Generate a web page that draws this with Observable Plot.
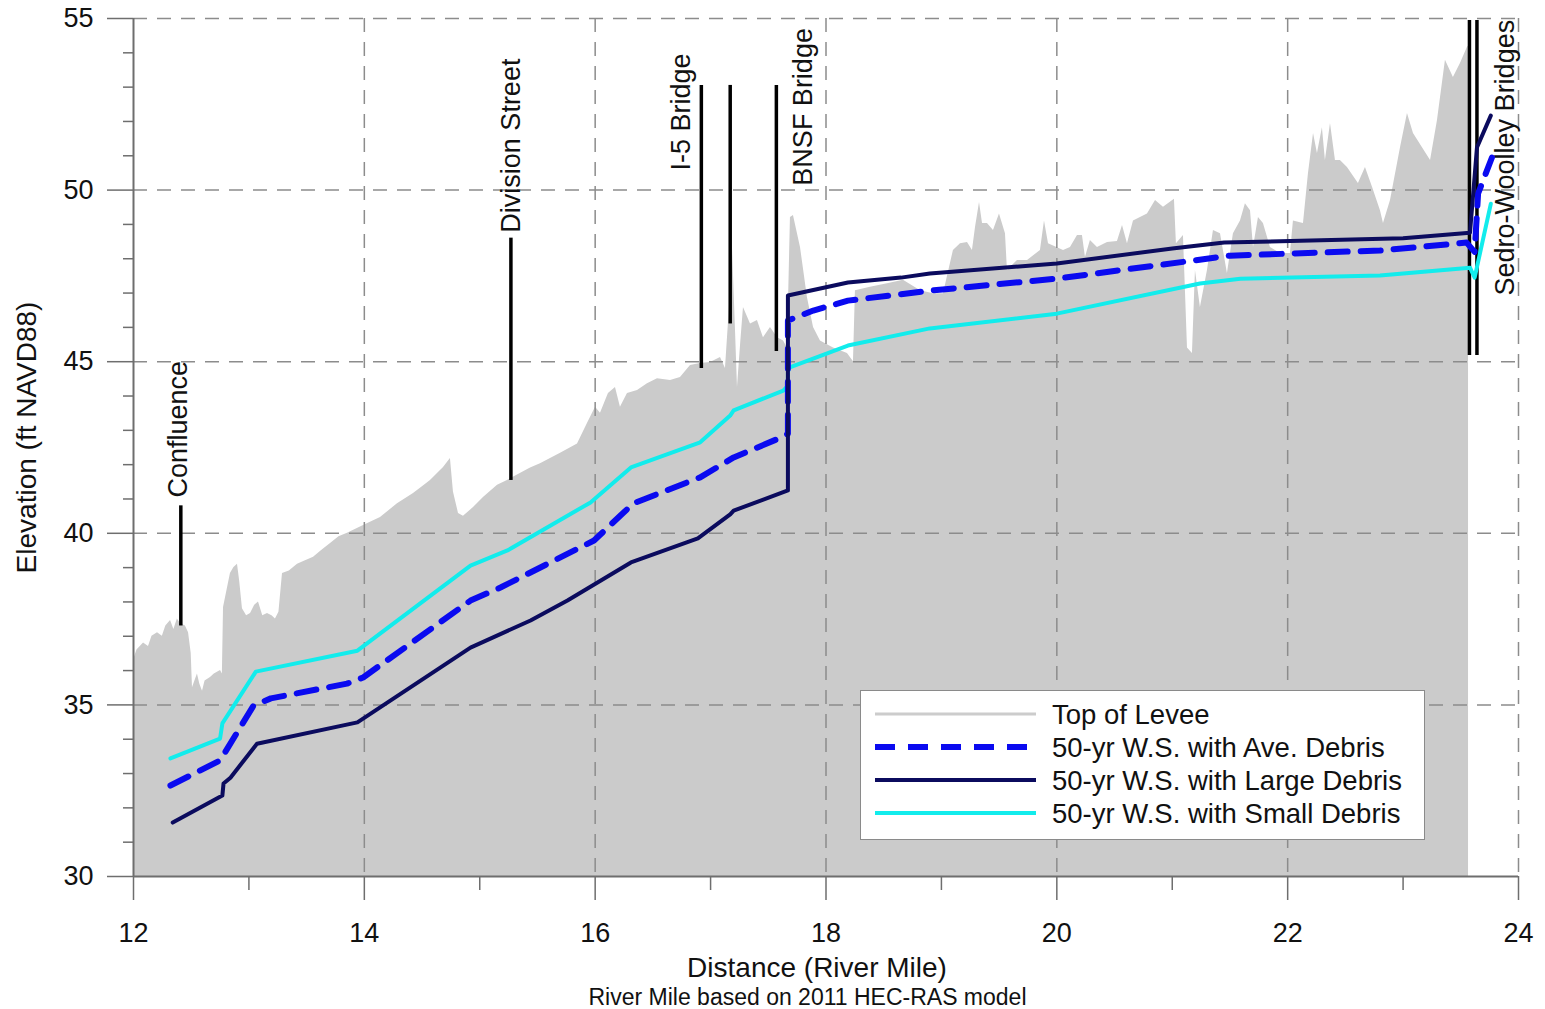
<!DOCTYPE html>
<html>
<head>
<meta charset="utf-8">
<script src="https://cdn.jsdelivr.net/npm/d3@7"></script>
<script src="https://cdn.jsdelivr.net/npm/@observablehq/plot@0.6"></script>
<style>
  html, body { margin: 0; padding: 0; background: #fff; }
  #wrap { position: relative; width: 1545px; height: 1009px; font-family: "Liberation Sans", Arial, sans-serif; }
  #caption { position: absolute; left: 70px; width: 1475px; top: 985px; text-align: center; font-size: 23px; line-height: 24px; color: #111; }
  #legend { position: absolute; left: 860px; top: 690px; width: 563px; height: 148px; border: 1.5px solid #8a8a8a; background: #fff; box-sizing: content-box; }
  .lrow { position: absolute; left: 0; height: 33px; width: 100%; }
  .lrow svg { position: absolute; left: 12px; top: 0; }
  .lrow span { position: absolute; left: 191px; top: 1px; font-size: 27.5px; line-height: 33px; color: #111; white-space: nowrap; }
</style>
</head>
<body>
<div id="wrap">
  <div id="chart"></div>
  <div id="legend"></div>
  <div id="caption">River Mile based on 2011 HEC-RAS model</div>
</div>
<script>
// ---- Data (river mile, elevation ft NAVD88) ----
const leveeTop = [
  [12.000,36.3],[12.03,36.6],[12.087,36.8],[12.13,36.7],[12.16,37.0],[12.208,37.1],[12.25,37.0],[12.28,37.3],
  [12.321,37.46],[12.35,37.2],[12.38,37.5],[12.407,37.37],[12.45,37.3],[12.477,37.1],[12.50,36.5],[12.511,35.5],
  [12.554,35.9],[12.575,35.6],[12.598,35.4],[12.62,35.7],[12.667,35.8],[12.70,35.9],[12.754,36.0],[12.770,35.9],
  [12.780,37.84],[12.82,38.5],[12.840,38.83],[12.87,39.0],[12.901,39.1],[12.92,38.6],[12.944,37.8],[12.98,37.6],
  [13.014,37.66],[13.05,37.9],[13.083,38.0],[13.12,37.6],[13.161,37.66],[13.20,37.6],[13.230,37.5],[13.26,37.7],
  [13.291,38.83],[13.35,38.9],[13.421,39.1],[13.49,39.2],[13.560,39.3],[13.63,39.5],[13.707,39.7],[13.78,39.9],
  [13.854,40.0],[13.993,40.23],[14.140,40.46],[14.287,40.86],[14.426,41.16],[14.52,41.4],[14.573,41.54],
  [14.686,41.92],[14.746,42.18],[14.772,41.2],[14.816,40.58],[14.859,40.5],[14.946,40.75],[15.032,41.04],
  [15.154,41.4],[15.240,41.54],[15.327,41.7],[15.440,41.9],[15.526,42.03],[15.700,42.33],[15.847,42.6],
  [15.933,43.2],[16.003,43.67],[16.046,43.5],[16.115,44.07],[16.176,44.25],[16.219,43.67],[16.280,44.07],
  [16.367,44.16],[16.453,44.36],[16.540,44.5],[16.653,44.45],[16.739,44.54],[16.826,44.89],[16.912,44.95],
  [16.999,44.98],[17.086,45.12],[17.129,44.8],[17.160,46.4],[17.190,48.3],[17.215,46.0],[17.233,44.25],
  [17.260,45.5],[17.285,46.58],[17.346,46.1],[17.406,46.2],[17.458,45.7],[17.519,46.0],[17.580,45.7],
  [17.632,45.6],[17.666,45.4],[17.692,49.2],[17.718,49.26],[17.779,48.33],[17.839,46.87],[17.892,46.0],
  [17.952,45.6],[18.065,45.4],[18.186,45.24],[18.238,45.0],[18.255,47.07],[18.385,47.17],[18.533,47.27],
  [18.671,47.37],[18.819,47.07],[18.931,46.98],[19.018,46.98],[19.104,48.24],[19.165,48.44],[19.226,48.47],
  [19.269,48.24],[19.295,48.9],[19.330,49.64],[19.356,49.03],[19.399,49.03],[19.451,48.82],[19.503,49.3],
  [19.555,48.73],[19.572,47.66],[19.659,47.95],[19.746,47.95],[19.858,48.24],[19.893,49.1],[19.928,48.44],
  [20.058,48.24],[20.118,48.33],[20.179,48.68],[20.222,48.68],[20.248,48.04],[20.291,48.53],[20.352,48.33],
  [20.439,48.47],[20.525,48.5],[20.569,48.97],[20.612,48.44],[20.664,49.1],[20.785,49.3],[20.855,49.7],
  [20.924,49.5],[21.019,49.73],[21.036,48.44],[21.097,48.68],[21.132,45.4],[21.175,45.24],[21.201,47.66],
  [21.244,46.58],[21.305,47.66],[21.357,48.82],[21.418,48.73],[21.478,47.57],[21.530,48.73],[21.591,49.1],
  [21.634,49.6],[21.678,49.4],[21.704,48.33],[21.747,49.2],[21.790,49.03],[21.851,48.33],[21.938,48.15],
  [22.024,48.15],[22.050,49.1],[22.137,49.03],[22.180,50.48],[22.224,51.65],[22.258,51.07],[22.301,51.82],
  [22.327,50.86],[22.371,51.94],[22.414,50.86],[22.457,50.86],[22.518,50.66],[22.613,50.19],[22.674,50.66],
  [22.735,50.08],[22.804,49.4],[22.830,49.03],[22.891,49.7],[22.978,51.24],[23.038,52.23],[23.090,51.65],
  [23.238,50.86],[23.298,52.03],[23.367,53.78],[23.436,53.28],[23.497,53.69],[23.558,54.16],[23.567,54.2]
];
const wsAveDebris = [
  [12.32,32.65],[12.75,33.38],[13.04,34.98],[13.19,35.19],[13.85,35.62],[13.99,35.8],[14.92,38.04],[15.18,38.42],
  [15.99,39.79],[16.33,40.87],[16.91,41.63],[17.2,42.21],[17.61,42.79],[17.67,42.9],[17.67,46.2],[17.89,46.49],
  [18.19,46.78],[18.9,47.07],[20.0,47.42],[21.5,48.09],[22.8,48.24],[23.55,48.47],[23.62,48.2],[23.65,49.9],[23.77,50.95]
];
const wsLargeDebris = [
  [12.34,31.57],[12.77,32.36],[12.78,32.71],[12.84,32.88],[13.07,33.87],[13.94,34.49],[14.92,36.67],[15.44,37.46],
  [15.76,38.04],[16.31,39.15],[16.89,39.85],[17.17,40.55],[17.2,40.66],[17.67,41.25],[17.67,46.93],[18.19,47.31],
  [18.65,47.45],[18.9,47.57],[20.0,47.86],[21.0,48.3],[21.45,48.47],[23.0,48.6],[23.58,48.76],[23.64,51.24],[23.76,52.17]
];
const wsSmallDebris = [
  [12.32,33.44],[12.75,34.02],[12.77,34.46],[13.06,35.97],[13.94,36.58],[14.92,39.06],[15.24,39.5],[15.96,40.9],
  [16.31,41.92],[16.91,42.65],[17.17,43.43],[17.2,43.58],[17.63,44.16],[17.67,44.3],[17.67,44.69],[17.68,44.83],
  [18.19,45.47],[18.9,45.97],[20.0,46.4],[21.24,47.28],[21.59,47.42],[22.8,47.51],[23.58,47.74],[23.62,47.45],[23.76,49.6]
];
// bridge / landmark markers: [mile, bottom elev, top elev]
const markerLines = [
  [12.41,37.3,40.8],[15.27,41.54,48.6],[16.92,44.8,53.05],[17.17,46.1,53.05],[17.57,45.3,53.05],
  [23.575,45.18,54.94],[23.64,45.18,54.94]
];
// landmark labels: [mile, elev at text start, label]
const markerLabels = [
  [12.39,41.04,"Confluence"],[15.27,48.76,"Division Street"],[16.75,50.57,"I-5 Bridge"],
  [17.80,50.13,"BNSF Bridge"],[23.89,46.93,"Sedro-Woolley Bridges"]
];
const xMajorTicks = [12,14,16,18,20,22,24];
const xMinorTicks = [13,15,17,19,21,23];
const yMajorTicks = [30,35,40,45,50,55];
const yMinorTicks = [31,32,33,34,36,37,38,39,41,42,43,44,46,47,48,49,51,52,53,54];
const series = [
  {name: "Top of Levee", color: "#cccccc", width: 3, dash: null},
  {name: "50-yr W.S. with Ave. Debris", color: "#0a0af0", width: 6, dash: "20,13"},
  {name: "50-yr W.S. with Large Debris", color: "#0b0b5e", width: 4, dash: null},
  {name: "50-yr W.S. with Small Debris", color: "#12ecec", width: 4, dash: null}
];

const toObj = (arr) => arr.map(([x, y]) => ({x, y}));
const levee = toObj(leveeTop);
const ave = toObj(wsAveDebris), large = toObj(wsLargeDebris), small = toObj(wsSmallDebris);
const markers = markerLines.map(([x, y1, y2]) => ({x, y1, y2}));
const labels = markerLabels.map(([x, y, text]) => ({x, y, text}));

const axisColor = "#6e6e6e";
const gridStyle = {stroke: "#8c8c8c", strokeWidth: 1.5, strokeDasharray: "14,10"};

const chart = Plot.plot({
  width: 1545,
  height: 985,
  marginTop: 18,
  marginBottom: 109,
  marginLeft: 133,
  marginRight: 27,
  x: {domain: [12, 24]},
  y: {domain: [30, 55]},
  style: {fontFamily: "'Liberation Sans', Arial, sans-serif", fontSize: "27px", color: "#111", background: "#fff", overflow: "visible"},
  marks: [
    Plot.areaY(levee, {x: "x", y1: 30, y2: "y", fill: "#cbcbcb"}),
    Plot.ruleY(yMajorTicks.filter(d => d > 30), {y: d => d, ...gridStyle}),
    Plot.ruleX(xMajorTicks.filter(d => d > 12), {x: d => d, ...gridStyle}),
    Plot.axisX({ticks: xMajorTicks, tickSize: 24, tickPadding: 22, tickFormat: d => String(d), stroke: axisColor, strokeWidth: 1.5, fontSize: 27, label: null}),
    Plot.axisX({ticks: xMinorTicks, tickSize: 14, tickFormat: () => "", stroke: axisColor, strokeWidth: 1.5, label: null}),
    Plot.axisY({ticks: yMajorTicks, tickSize: 26, tickPadding: 14, tickFormat: d => String(d), stroke: axisColor, strokeWidth: 1.5, fontSize: 27, label: null}),
    Plot.axisY({ticks: yMinorTicks, tickSize: 10, tickFormat: () => "", stroke: axisColor, strokeWidth: 1.5, label: null}),
    Plot.ruleX([12], {x: d => d, stroke: axisColor, strokeWidth: 2}),
    Plot.ruleY([30], {y: d => d, stroke: axisColor, strokeWidth: 2}),
    Plot.text(["Distance (River Mile)"], {frameAnchor: "bottom", dy: 100, dx: -9, text: d => d, fontSize: 28, fill: "#111"}),
    Plot.text(["Elevation (ft NAVD88)"], {frameAnchor: "left", dx: -106, dy: -10, rotate: -90, textAnchor: "middle", text: d => d, fontSize: 28, fill: "#111"}),
    Plot.ruleX(markers, {x: "x", y1: "y1", y2: "y2", stroke: "#000", strokeWidth: 3.5}),
    Plot.text(labels, {x: "x", y: "y", text: "text", rotate: -90, textAnchor: "start", fontSize: 27, fill: "#111"}),
    Plot.line(small, {x: "x", y: "y", stroke: series[3].color, strokeWidth: series[3].width, strokeLinejoin: "round"}),
    Plot.line(ave, {x: "x", y: "y", stroke: series[1].color, strokeWidth: series[1].width, strokeDasharray: series[1].dash, strokeLinejoin: "round"}),
    Plot.line(large, {x: "x", y: "y", stroke: series[2].color, strokeWidth: series[2].width, strokeLinejoin: "round"})
  ]
});
document.getElementById("chart").appendChild(chart);

// Legend (inside plot area, lower right)
const legend = d3.select("#legend");
series.forEach((s, i) => {
  const row = legend.append("div").attr("class", "lrow").style("top", (6 + i * 33) + "px");
  const svg = row.append("svg").attr("width", 165).attr("height", 33);
  svg.append("line").attr("x1", 2).attr("x2", 163).attr("y1", 17).attr("y2", 17)
    .attr("stroke", s.color).attr("stroke-width", s.width)
    .attr("stroke-dasharray", s.dash);
  row.append("span").text(s.name);
});
</script>
</body>
</html>
